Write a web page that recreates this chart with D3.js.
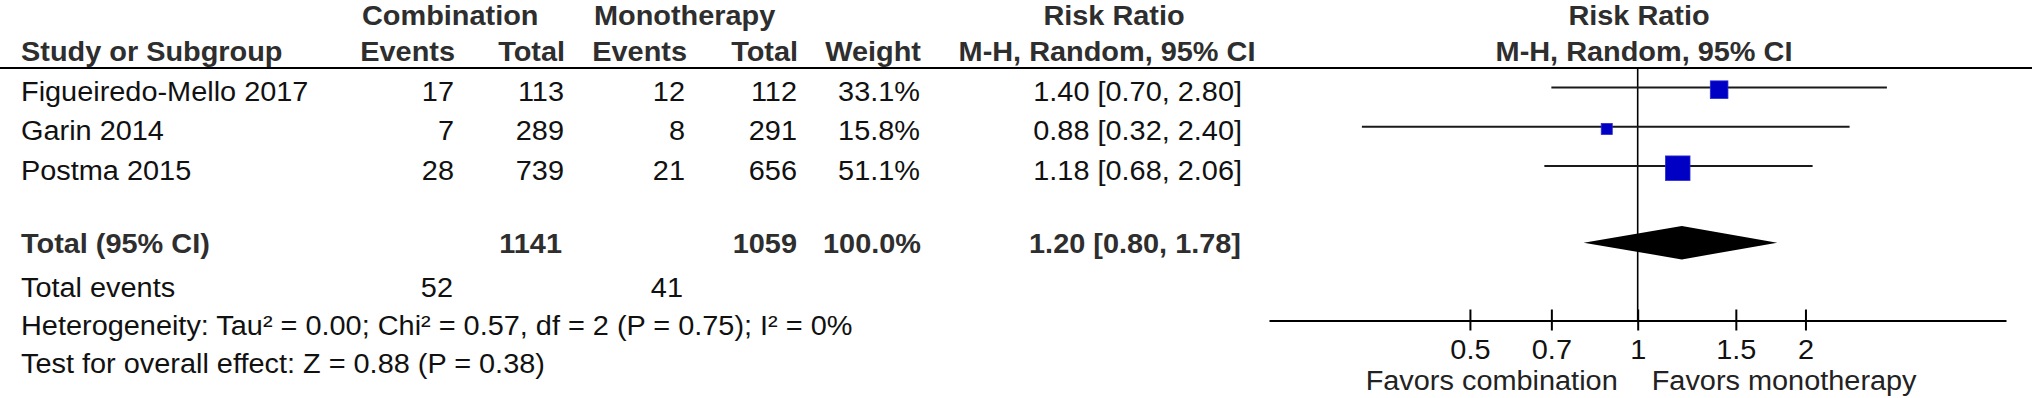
<!DOCTYPE html>
<html>
<head>
<meta charset="utf-8">
<script src="https://cdn.jsdelivr.net/npm/d3@7"></script>
<style>
  html, body { margin: 0; padding: 0; background: #fff; }
  svg { display: block; }
  text { font-family: "Liberation Sans", Arial, sans-serif; font-size: 27px; }
</style>
</head>
<body>
<svg id="chart" width="2032" height="398"></svg>
<script>
// ---------- data ----------
const studies = ["Figueiredo-Mello 2017", "Garin 2014", "Postma 2015"];
const combEvents = [17, 7, 28];
const combTotal = [113, 289, 739];
const monoEvents = [12, 8, 21];
const monoTotal = [112, 291, 656];
const weights = [33.1, 15.8, 51.1];
const riskRatio = [1.40, 0.88, 1.18];
const ciLow = [0.70, 0.32, 0.68];
const ciHigh = [2.80, 2.40, 2.06];

const pooledTotals = [1141, 1059];
const pooledWeight = 100.0;
const pooledRR = [1.20, 0.80, 1.78]; // estimate, low, high
const totalEvents = [52, 41];

const tickValues = [0.5, 0.7, 1, 1.5, 2];
const tickLabels = ["0.5", "0.7", "1", "1.5", "2"];
const axisExtent = [0.218, 4.58];

const heterogeneityText = "Heterogeneity: Tau\u00B2 = 0.00; Chi\u00B2 = 0.57, df = 2 (P = 0.75); I\u00B2 = 0%";
const overallText = "Test for overall effect: Z = 0.88 (P = 0.38)";
const favorsLeft = "Favors combination";
const favorsRight = "Favors monotherapy";

// ---------- layout ----------
const SX = 1.07; // horizontal stretch of the original raster text
const FS = 27;
const svg = d3.select("#chart");

const x = d3.scaleLog().domain(axisExtent).range([1269, 2006]);
const rowY = d3.scalePoint().domain(studies).range([101, 179.5]); // text baselines
const sqSize = d3.scaleLinear().domain([0, 100]).range([5, 43.2]);

function label(g, px, py, str, anchor, bold) {
  return g.append("text")
    .attr("transform", `translate(${px},${py}) scale(${SX},1)`)
    .attr("text-anchor", anchor)
    .attr("font-weight", bold ? "bold" : "normal")
    .attr("fill", bold ? "#2e2e2e" : "#111")
    .text(str);
}

const fmt2 = d3.format(".2f");
const fmtCI = (e, l, h) => `${fmt2(e)} [${fmt2(l)}, ${fmt2(h)}]`;

const col = { ce: 455, ct: 565, me: 687, mt: 798, w: 921, rr: 1242 };

// headers
const H1 = 24.5, H2 = 60.5;
label(svg, 362, H1, "Combination", "start", true);
label(svg, 594, H1, "Monotherapy", "start", true);
label(svg, 1114, H1, "Risk Ratio", "middle", true);
label(svg, 1639, H1, "Risk Ratio", "middle", true);

label(svg, 21, H2, "Study or Subgroup", "start", true);
label(svg, col.ce, H2, "Events", "end", true);
label(svg, col.ct, H2, "Total", "end", true);
label(svg, col.me, H2, "Events", "end", true);
label(svg, col.mt, H2, "Total", "end", true);
label(svg, col.w, H2, "Weight", "end", true);
label(svg, 1107, H2, "M-H, Random, 95% CI", "middle", true);
label(svg, 1644, H2, "M-H, Random, 95% CI", "middle", true);

svg.append("line").attr("x1", 0).attr("x2", 2032).attr("y1", 68).attr("y2", 68)
  .attr("stroke", "#000").attr("stroke-width", 2);

// study rows
studies.forEach((s, i) => {
  const y = rowY(s);
  label(svg, 21, y, s, "start", false);
  label(svg, col.ce - 1, y, combEvents[i], "end", false);
  label(svg, col.ct - 1, y, combTotal[i], "end", false);
  label(svg, col.me - 2, y, monoEvents[i], "end", false);
  label(svg, col.mt - 1, y, monoTotal[i], "end", false);
  label(svg, col.w - 1, y, d3.format(".1f")(weights[i]) + "%", "end", false);
  label(svg, col.rr, y, fmtCI(riskRatio[i], ciLow[i], ciHigh[i]), "end", false);
});

// null line
svg.append("line").attr("x1", x(1)).attr("x2", x(1)).attr("y1", 68).attr("y2", 320)
  .attr("stroke", "#000").attr("stroke-width", 1.6);

// CI lines and squares
const plot = svg.append("g");
plot.selectAll("line.ci").data(studies).join("line").attr("class", "ci")
  .attr("x1", (d, i) => x(ciLow[i])).attr("x2", (d, i) => x(ciHigh[i]))
  .attr("y1", d => rowY(d) - 13.5).attr("y2", d => rowY(d) - 13.5)
  .attr("stroke", "#1a1a1a").attr("stroke-width", 2);
plot.selectAll("rect.sq").data(studies).join("rect").attr("class", "sq")
  .attr("x", (d, i) => x(riskRatio[i]) - sqSize(weights[i]) / 2)
  .attr("y", (d, i) => rowY(d) - 11.3 - sqSize(weights[i]) / 2)
  .attr("width", (d, i) => sqSize(weights[i]))
  .attr("height", (d, i) => sqSize(weights[i]))
  .attr("fill", "#0000c4").attr("stroke", "#2a2ad8").attr("stroke-width", 0.8);

// totals row
const TY = 253;
label(svg, 21, TY, "Total (95% CI)", "start", true);
label(svg, col.ct - 3, TY, pooledTotals[0], "end", true);
label(svg, col.mt - 1, TY, pooledTotals[1], "end", true);
label(svg, col.w, TY, d3.format(".1f")(pooledWeight) + "%", "end", true);
label(svg, col.rr - 1, TY, fmtCI(pooledRR[0], pooledRR[1], pooledRR[2]), "end", true);

const dy = 242.7, dh = 16.7;
svg.append("path")
  .attr("d", d3.line()([
    [x(pooledRR[1]), dy], [x(pooledRR[0]), dy - dh],
    [x(pooledRR[2]), dy], [x(pooledRR[0]), dy + dh]
  ]) + "Z")
  .attr("fill", "#000");

// total events & footers
const EY = 297;
label(svg, 21, EY, "Total events", "start", false);
label(svg, col.ce - 2, EY, totalEvents[0], "end", false);
label(svg, col.me - 4, EY, totalEvents[1], "end", false);
label(svg, 21, 334.5, heterogeneityText, "start", false);
label(svg, 21, 372.5, overallText, "start", false);

// axis
const axis = d3.axisBottom(x).tickValues(tickValues)
  .tickFormat((d, i) => tickLabels[i]).tickSizeOuter(0);
const ag = svg.append("g").attr("transform", "translate(0,320.5)").call(axis);
ag.select(".domain").attr("stroke", "#000").attr("stroke-width", 2);
ag.selectAll(".tick line").attr("y1", -11).attr("y2", 10)
  .attr("stroke", "#000").attr("stroke-width", 2);
ag.selectAll(".tick text")
  .attr("y", null).attr("dy", null)
  .attr("transform", `translate(0,38) scale(${SX},1)`)
  .attr("fill", "#111")
  .style("font-family", '"Liberation Sans", Arial, sans-serif')
  .style("font-size", FS + "px");

label(svg, x(1) - 20, 390, favorsLeft, "end", false).attr("fill", "#222");
label(svg, x(1) + 14, 390, favorsRight, "start", false).attr("fill", "#222");
</script>
</body>
</html>
